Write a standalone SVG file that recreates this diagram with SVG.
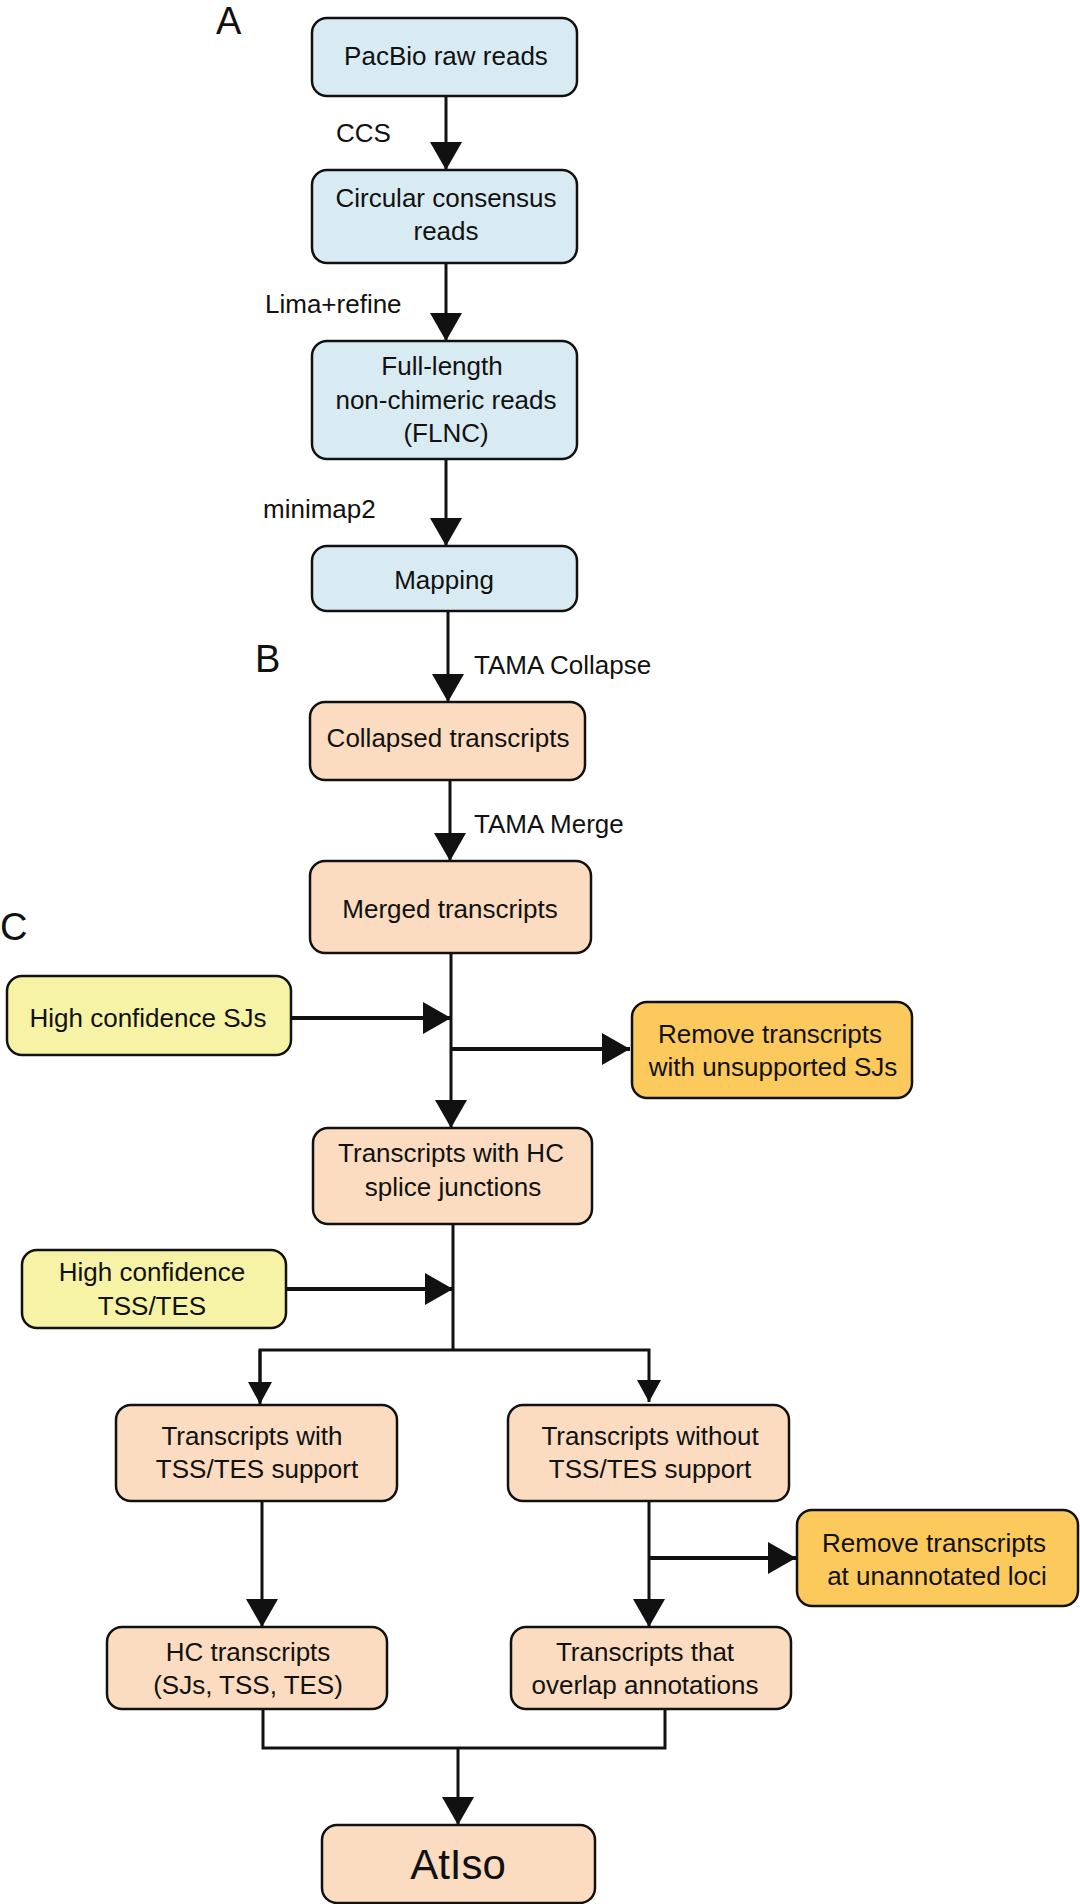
<svg xmlns="http://www.w3.org/2000/svg" width="1080" height="1904" viewBox="0 0 1080 1904">
<style>
text{font-family:"Liberation Sans",Arial,sans-serif;font-size:26px;fill:#111;text-anchor:middle}
.lbl{text-anchor:start}
.pl{font-size:38px;text-anchor:start}
.box{stroke:#111;stroke-width:2.5}
.b{fill:#d9ebf2}.p{fill:#fbdcc0}.y{fill:#f6f3a6}.o{fill:#fcc95c}
.c{fill:none;stroke:#111;stroke-width:3}
</style>
<defs>
<marker id="ah" markerUnits="userSpaceOnUse" markerWidth="30" markerHeight="32" refX="28" refY="16" orient="auto"><path d="M0,0 L28,16 L0,32Z" fill="#111"/></marker>
<marker id="as" markerUnits="userSpaceOnUse" markerWidth="24" markerHeight="24" refX="22" refY="12" orient="auto"><path d="M0,0 L22,12 L0,24Z" fill="#111"/></marker>
</defs>
<text class="pl" x="216" y="34">A</text>
<text class="pl" x="255" y="672">B</text>
<text class="pl" x="0" y="940">C</text>
<g id="connectors">
<path class="c" d="M446,96 V170" marker-end="url(#ah)"/>
<path class="c" d="M446,263 V341" marker-end="url(#ah)"/>
<path class="c" d="M446,459 V546" marker-end="url(#ah)"/>
<path class="c" d="M448,611 V702" marker-end="url(#ah)"/>
<path class="c" d="M450,780 V861" marker-end="url(#ah)"/>
<path class="c" d="M451,953 V1128" marker-end="url(#ah)"/>
<path class="c" d="M291,1018 H451" style="stroke-width:4" marker-end="url(#ah)"/>
<path class="c" d="M451,1049 H630" style="stroke-width:4" marker-end="url(#ah)"/>
<path class="c" d="M453,1224 V1350"/>
<path class="c" d="M286,1289 H453" style="stroke-width:4" marker-end="url(#ah)"/>
<path class="c" d="M260,1402 V1350 H649 V1402" marker-end="url(#as)"/>
<path class="c" d="M260,1350 V1404" marker-end="url(#as)"/>
<path class="c" d="M262,1501 V1627" marker-end="url(#ah)"/>
<path class="c" d="M649,1501 V1627" marker-end="url(#ah)"/>
<path class="c" d="M649,1558 H796" style="stroke-width:4" marker-end="url(#ah)"/>
<path class="c" d="M263,1709 V1748 H665 V1709"/>
<path class="c" d="M458,1748 V1825" marker-end="url(#ah)"/>
</g>
<text class="lbl" x="336" y="142">CCS</text>
<text class="lbl" x="265" y="313">Lima+refine</text>
<text class="lbl" x="263" y="518">minimap2</text>
<text class="lbl" x="474" y="674">TAMA Collapse</text>
<text class="lbl" x="474" y="833">TAMA Merge</text>
<g id="n1"><rect class="box b" x="312" y="18" width="265" height="78" rx="15"/><text x="446" y="65">PacBio raw reads</text></g>
<g id="n2"><rect class="box b" x="312" y="170" width="265" height="93" rx="15"/><text x="446" y="207">Circular consensus</text><text x="446" y="240">reads</text></g>
<g id="n3"><rect class="box b" x="312" y="341" width="265" height="118" rx="15"/><text x="442" y="375">Full-length</text><text x="446" y="409">non-chimeric reads</text><text x="446" y="442">(FLNC)</text></g>
<g id="n4"><rect class="box b" x="312" y="546" width="265" height="65" rx="15"/><text x="444" y="589">Mapping</text></g>
<g id="n5"><rect class="box p" x="310" y="702" width="275" height="78" rx="15"/><text x="448" y="747">Collapsed transcripts</text></g>
<g id="n6"><rect class="box p" x="310" y="861" width="281" height="92" rx="15"/><text x="450" y="918">Merged transcripts</text></g>
<g id="n7"><rect class="box y" x="7" y="976" width="284" height="79" rx="15"/><text x="148" y="1027">High confidence SJs</text></g>
<g id="n8"><rect class="box o" x="632" y="1002" width="280" height="96" rx="15"/><text x="770" y="1043">Remove transcripts</text><text x="773" y="1076">with unsupported SJs</text></g>
<g id="n9"><rect class="box p" x="313" y="1128" width="279" height="96" rx="15"/><text x="451" y="1162">Transcripts with HC</text><text x="453" y="1196">splice junctions</text></g>
<g id="n10"><rect class="box y" x="22" y="1250" width="264" height="78" rx="15"/><text x="152" y="1281">High confidence</text><text x="152" y="1315">TSS/TES</text></g>
<g id="n11"><rect class="box p" x="116" y="1405" width="281" height="96" rx="15"/><text x="252" y="1445">Transcripts with</text><text x="257" y="1478">TSS/TES support</text></g>
<g id="n12"><rect class="box p" x="508" y="1405" width="281" height="96" rx="15"/><text x="650" y="1445">Transcripts without</text><text x="650" y="1478">TSS/TES support</text></g>
<g id="n13"><rect class="box o" x="797" y="1510" width="281" height="96" rx="15"/><text x="934" y="1552">Remove transcripts</text><text x="937" y="1585">at unannotated loci</text></g>
<g id="n14"><rect class="box p" x="107" y="1627" width="280" height="82" rx="15"/><text x="248" y="1661">HC transcripts</text><text x="248" y="1694">(SJs, TSS, TES)</text></g>
<g id="n15"><rect class="box p" x="511" y="1627" width="280" height="82" rx="15"/><text x="645" y="1661">Transcripts that</text><text x="645" y="1694">overlap annotations</text></g>
<g id="n16"><rect class="box p" x="322" y="1825" width="273" height="78" rx="15"/><text x="458" y="1879" style="font-size:42px">AtIso</text></g>
</svg>
